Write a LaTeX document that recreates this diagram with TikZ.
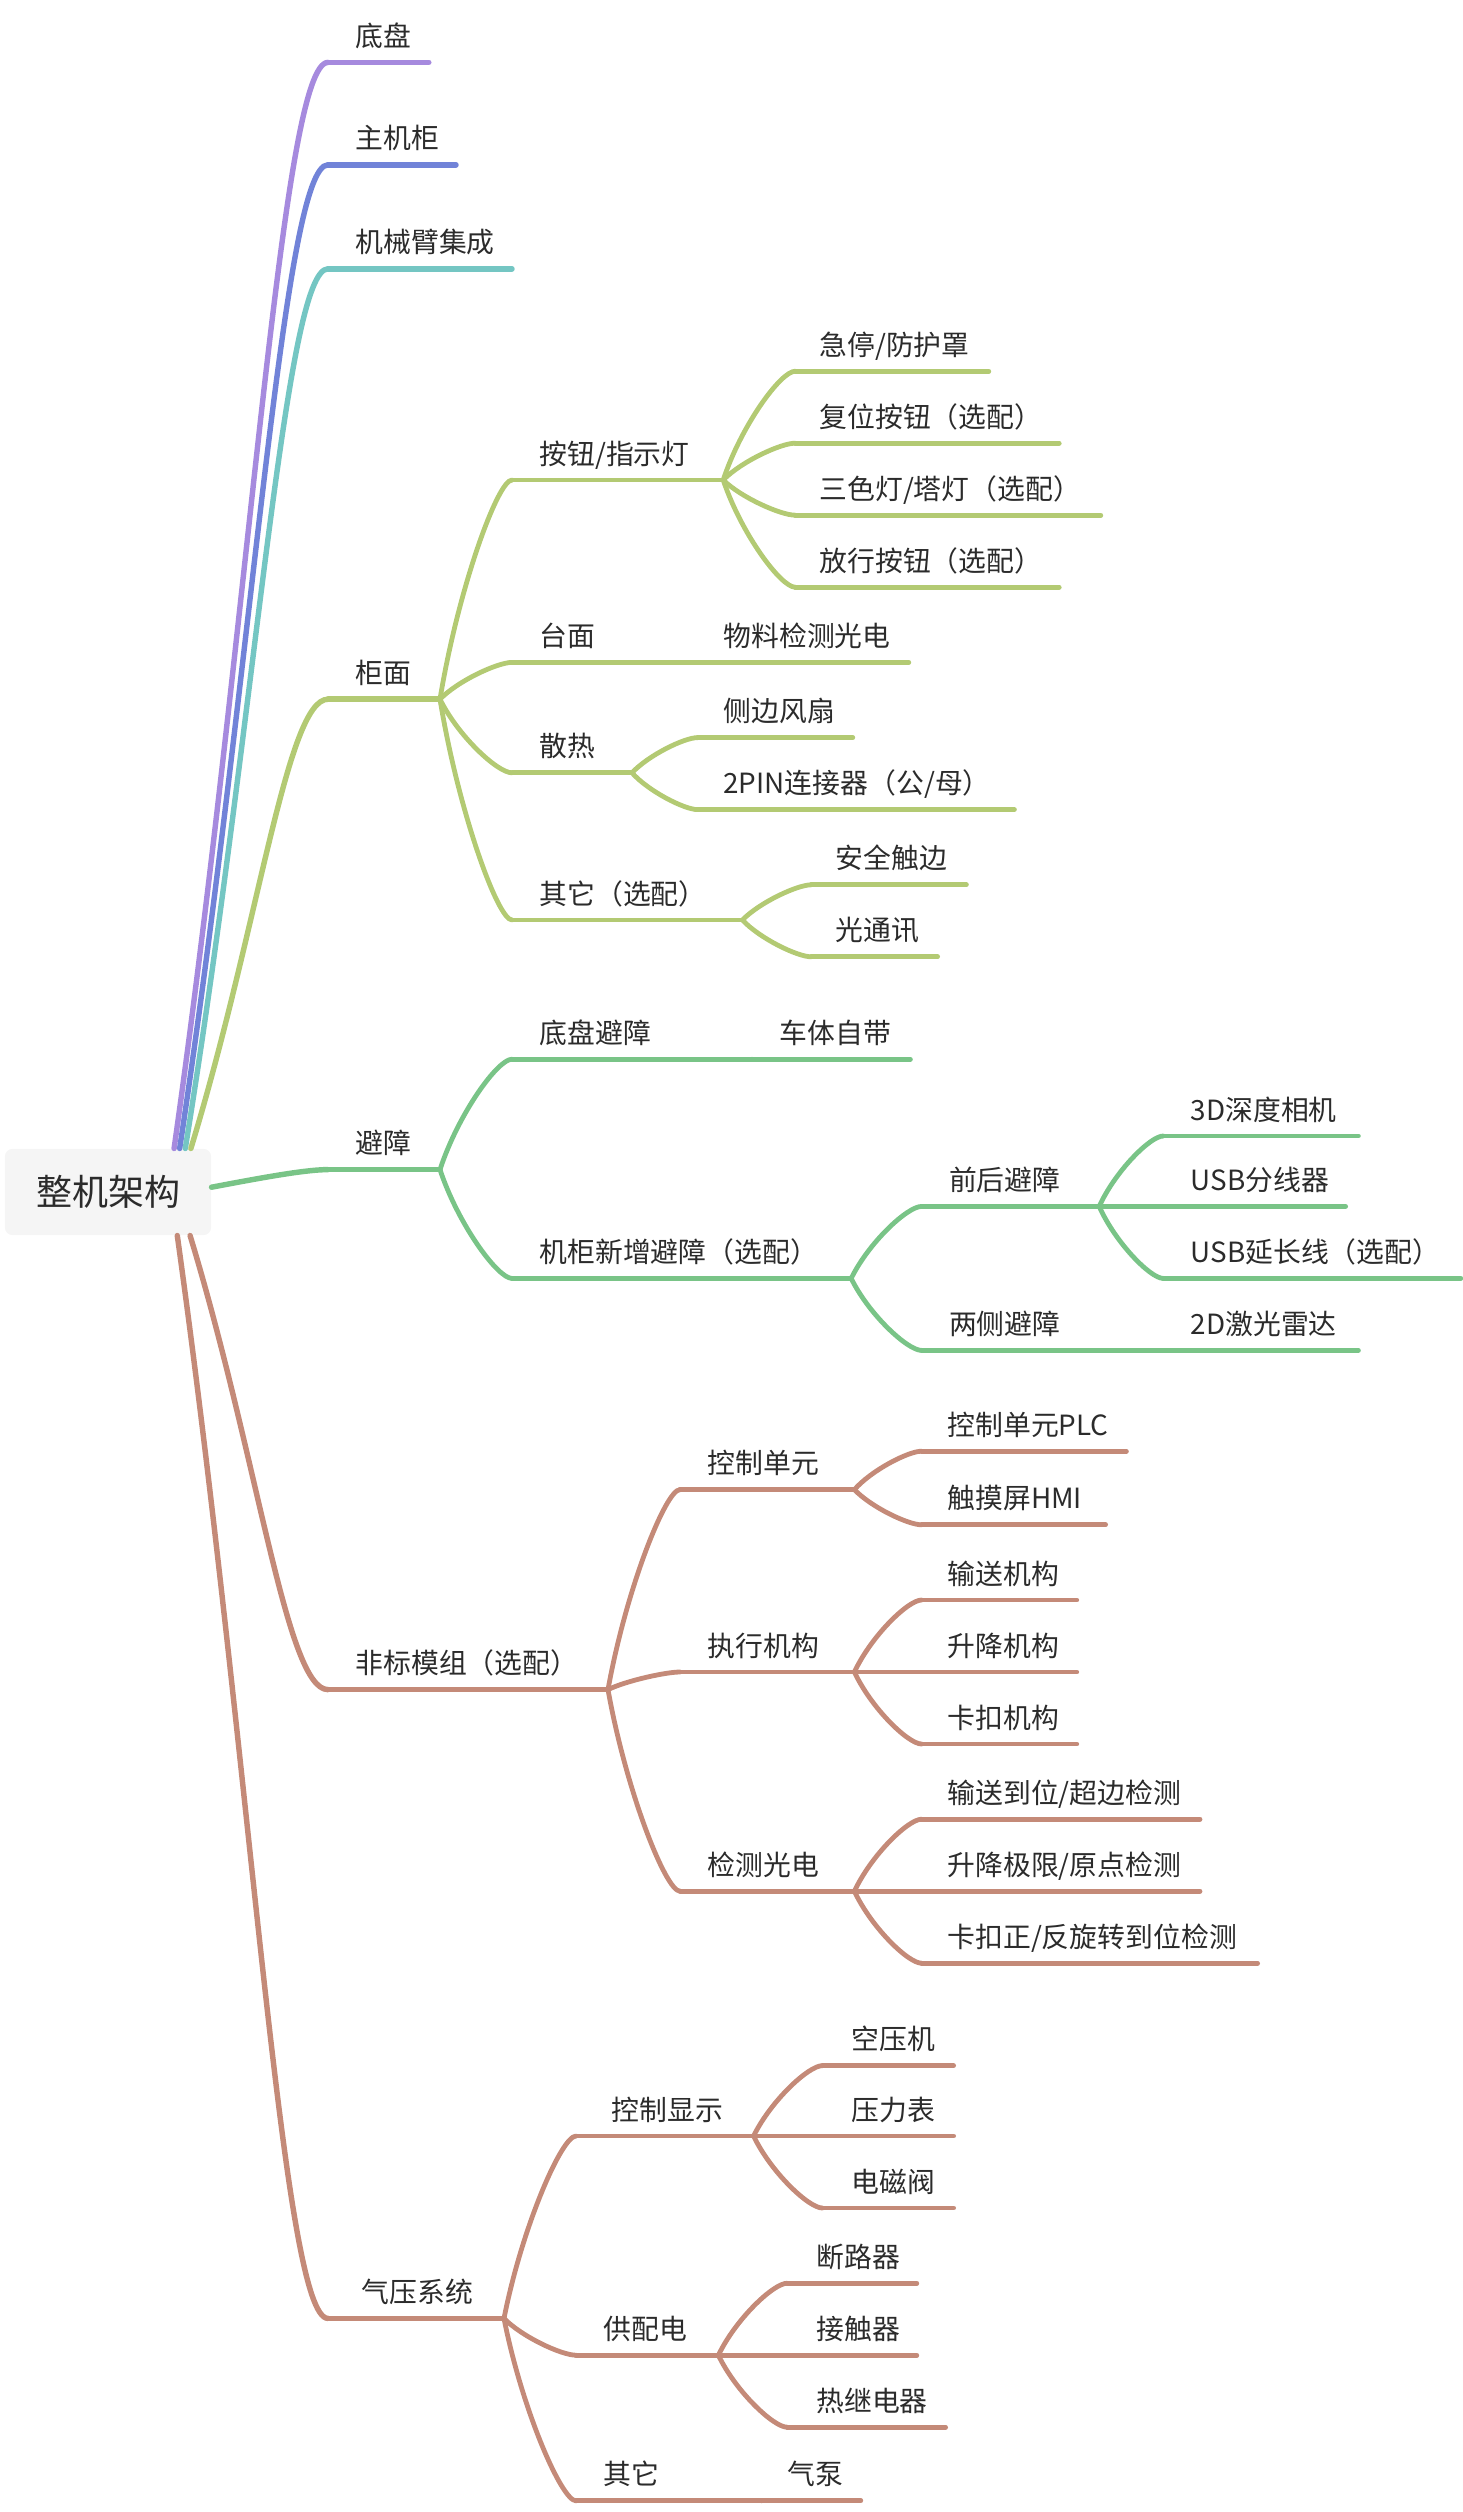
\documentclass[tikz,border=0pt]{standalone}
\usepackage{fontspec}
\setmainfont{Noto Sans CJK SC}
\usetikzlibrary{calc}
\definecolor{cPurple}{HTML}{A68ADE}
\definecolor{cBlue}{HTML}{7183D8}
\definecolor{cTeal}{HTML}{74C6C3}
\definecolor{cLime}{HTML}{B3CA73}
\definecolor{cGreen}{HTML}{79C487}
\definecolor{cBrown}{HTML}{C48A78}
\definecolor{cText}{HTML}{2B2B2B}
\definecolor{cRoot}{HTML}{F5F5F5}
\newcommand\mmtopic[7]{%
 \coordinate (#1-s) at (#3,#4);
 \coordinate (#1-e) at (#5,#4);
 \node[lbl] (#1) at (#6,#4-10) {#7};
 \draw[#2] (#1-s) -- (#1-e);
}
% from, to, style, c1 x-factor, c2 x-factor
\newcommand\mmlinkx[5]{%
 \draw[#3] let \p1=(#1), \p2=(#2) in (#1) .. controls ({\x1+#4*(\x2-\x1)},{\y1+0.5*(\y2-\y1)}) and ({\x1+#5*(\x2-\x1)},\y2) .. (#2);
}
\newcommand\mmlink[4]{\mmlinkx{#1}{#2}{#3}{#4}{0.8}}
\begin{document}
\begin{tikzpicture}[x=1pt,y=-1pt,
 lbl/.style={anchor=base west, inner sep=0pt, text=cText, font=\fontsize{17.4}{17.4}\selectfont},
 L1/.style={line width=3.4pt, line cap=round},
 L2/.style={line width=3pt, line cap=round}]
\useasboundingbox (0,0) rectangle (914,1570);
% root
\node[fill=cRoot, rounded corners=5pt, minimum width=129pt, minimum height=54pt, inner sep=0pt, text=cText, font=\fontsize{22.5}{22.5}\selectfont] (root) at (67.5,745) {整机架构};
\coordinate (r1) at ([xshift=106pt]root.north west);
\coordinate (r2) at ([xshift=109.5pt]root.north west);
\coordinate (r3) at ([xshift=113pt]root.north west);
\coordinate (r4) at ([xshift=116.5pt]root.north west);
\coordinate (r5) at ([yshift=3pt]root.east);
\coordinate (r6) at ([xshift=116pt]root.south west);
\coordinate (r7) at ([xshift=108pt]root.south west);

% level 1
\mmtopic{dp}{L1,cPurple}{205}{39}{268}{222}{底盘}
\mmtopic{zjg}{L1,cBlue}{205}{103}{285}{222}{主机柜}
\mmtopic{jxb}{L1,cTeal}{205}{168}{320}{222}{机械臂集成}
\mmtopic{gm}{L1,cLime}{205}{437}{275}{222}{柜面}
\mmtopic{bz}{L1,cGreen}{205}{731}{275}{222}{避障}
\mmtopic{fb}{L1,cBrown}{205}{1056}{380}{222}{非标模组（选配）}
\mmtopic{qy}{L1,cBrown}{205}{1449}{315}{226}{气压系统}
\mmlinkx{r1}{dp-s}{L1,cPurple}{0.5}{0.7}
\mmlinkx{r2}{zjg-s}{L1,cBlue}{0.5}{0.7}
\mmlinkx{r3}{jxb-s}{L1,cTeal}{0.5}{0.7}
\mmlinkx{r4}{gm-s}{L1,cLime}{0.5}{0.7}
\mmlinkx{r5}{bz-s}{L1,cGreen}{0.4}{0.8}
\mmlinkx{r6}{fb-s}{L1,cBrown}{0.5}{0.7}
\mmlinkx{r7}{qy-s}{L1,cBrown}{0.5}{0.7}

% 柜面
\mmtopic{an}{L2,cLime}{320}{300}{452}{337}{按钮/指示灯}
\mmtopic{tm}{L2,cLime}{320}{414}{436}{337}{台面}
\mmtopic{sr}{L2,cLime}{320}{483}{395}{337}{散热}
\mmtopic{qt}{L2,cLime}{320}{575}{464}{337}{其它（选配）}
\foreach \c in {an,tm,sr,qt}{\mmlink{gm-e}{\c-s}{L2,cLime}{0.25}}
\mmtopic{jt}{L2,cLime}{497}{232}{618}{512}{急停/防护罩}
\mmtopic{fw}{L2,cLime}{497}{277}{662}{512}{复位按钮（选配）}
\mmtopic{ss}{L2,cLime}{497}{322}{688}{512}{三色灯/塔灯（选配）}
\mmtopic{fx}{L2,cLime}{497}{367}{662}{512}{放行按钮（选配）}
\foreach \c in {jt,fw,ss,fx}{\mmlink{an-e}{\c-s}{L2,cLime}{0.25}}
\mmtopic{wl}{L2,cLime}{436}{414}{568}{452}{物料检测光电}
\mmlink{tm-e}{wl-s}{L2,cLime}{0.25}
\mmtopic{cb}{L2,cLime}{436}{461}{533}{452}{侧边风扇}
\mmtopic{pin}{L2,cLime}{436}{506}{634}{452}{2PIN连接器（公/母）}
\foreach \c in {cb,pin}{\mmlink{sr-e}{\c-s}{L2,cLime}{0.25}}
\mmtopic{aq}{L2,cLime}{507}{553}{604}{522}{安全触边}
\mmtopic{gt}{L2,cLime}{507}{598}{586}{522}{光通讯}
\foreach \c in {aq,gt}{\mmlink{qt-e}{\c-s}{L2,cLime}{0.25}}

% 避障
\mmtopic{dpbz}{L2,cGreen}{320}{662}{470}{337}{底盘避障}
\mmtopic{jgxz}{L2,cGreen}{320}{799}{532}{337}{机柜新增避障（选配）}
\foreach \c in {dpbz,jgxz}{\mmlink{bz-e}{\c-s}{L2,cGreen}{0.25}}
\mmtopic{ctzd}{L2,cGreen}{470}{662}{569}{487}{车体自带}
\mmlink{dpbz-e}{ctzd-s}{L2,cGreen}{0.25}
\mmtopic{qhbz}{L2,cGreen}{576}{754}{687}{593}{前后避障}
\mmtopic{lcbz}{L2,cGreen}{576}{844}{727}{593}{两侧避障}
\foreach \c in {qhbz,lcbz}{\mmlink{jgxz-e}{\c-s}{L2,cGreen}{0.25}}
\mmtopic{ld}{L2,cGreen}{727}{844}{849}{744}{2D激光雷达}
\mmlink{lcbz-e}{ld-s}{L2,cGreen}{0.25}
\mmtopic{xj}{L2,cGreen}{727}{710}{849}{744}{3D深度相机}
\mmtopic{usbf}{L2,cGreen}{727}{754}{841}{744}{USB分线器}
\mmtopic{usby}{L2,cGreen}{727}{799}{913}{744}{USB延长线（选配）}
\foreach \c in {xj,usbf,usby}{\mmlink{qhbz-e}{\c-s}{L2,cGreen}{0.25}}

% 非标模组
\mmtopic{kzdy}{L2,cBrown}{425}{931}{534}{442}{控制单元}
\mmtopic{zxjg}{L2,cBrown}{425}{1045}{534}{442}{执行机构}
\mmtopic{jcgd}{L2,cBrown}{425}{1182}{534}{442}{检测光电}
\foreach \c in {kzdy,zxjg,jcgd}{\mmlink{fb-e}{\c-s}{L2,cBrown}{0.25}}
\mmtopic{plc}{L2,cBrown}{576}{907}{704}{592}{控制单元PLC}
\mmtopic{hmi}{L2,cBrown}{576}{953}{691}{592}{触摸屏HMI}
\foreach \c in {plc,hmi}{\mmlink{kzdy-e}{\c-s}{L2,cBrown}{0.25}}
\mmtopic{ssjg}{L2,cBrown}{576}{1000}{673}{592}{输送机构}
\mmtopic{sjjg}{L2,cBrown}{576}{1045}{673}{592}{升降机构}
\mmtopic{kkjg}{L2,cBrown}{576}{1090}{673}{592}{卡扣机构}
\foreach \c in {ssjg,sjjg,kkjg}{\mmlink{zxjg-e}{\c-s}{L2,cBrown}{0.25}}
\mmtopic{ssdw}{L2,cBrown}{576}{1137}{750}{592}{输送到位/超边检测}
\mmtopic{sjjx}{L2,cBrown}{576}{1182}{750}{592}{升降极限/原点检测}
\mmtopic{kkz}{L2,cBrown}{576}{1227}{786}{592}{卡扣正/反旋转到位检测}
\foreach \c in {ssdw,sjjx,kkz}{\mmlink{jcgd-e}{\c-s}{L2,cBrown}{0.25}}

% 气压系统
\mmtopic{kzxs}{L2,cBrown}{360}{1335}{471}{382}{控制显示}
\mmtopic{gpd}{L2,cBrown}{360}{1472}{449}{377}{供配电}
\mmtopic{qtb}{L2,cBrown}{360}{1563}{476}{377}{其它}
\foreach \c in {kzxs,gpd,qtb}{\mmlink{qy-e}{\c-s}{L2,cBrown}{0.25}}
\mmtopic{kyj}{L2,cBrown}{514}{1291}{596}{532}{空压机}
\mmtopic{ylb}{L2,cBrown}{514}{1335}{596}{532}{压力表}
\mmtopic{dcf}{L2,cBrown}{514}{1380}{596}{532}{电磁阀}
\foreach \c in {kyj,ylb,dcf}{\mmlink{kzxs-e}{\c-s}{L2,cBrown}{0.25}}
\mmtopic{dlq}{L2,cBrown}{492}{1427}{573}{510}{断路器}
\mmtopic{jcq}{L2,cBrown}{492}{1472}{573}{510}{接触器}
\mmtopic{rjdq}{L2,cBrown}{492}{1517}{591}{510}{热继电器}
\foreach \c in {dlq,jcq,rjdq}{\mmlink{gpd-e}{\c-s}{L2,cBrown}{0.25}}
\mmtopic{qb}{L2,cBrown}{476}{1563}{538}{492}{气泵}
\mmlink{qtb-e}{qb-s}{L2,cBrown}{0.25}
\end{tikzpicture}
\end{document}
